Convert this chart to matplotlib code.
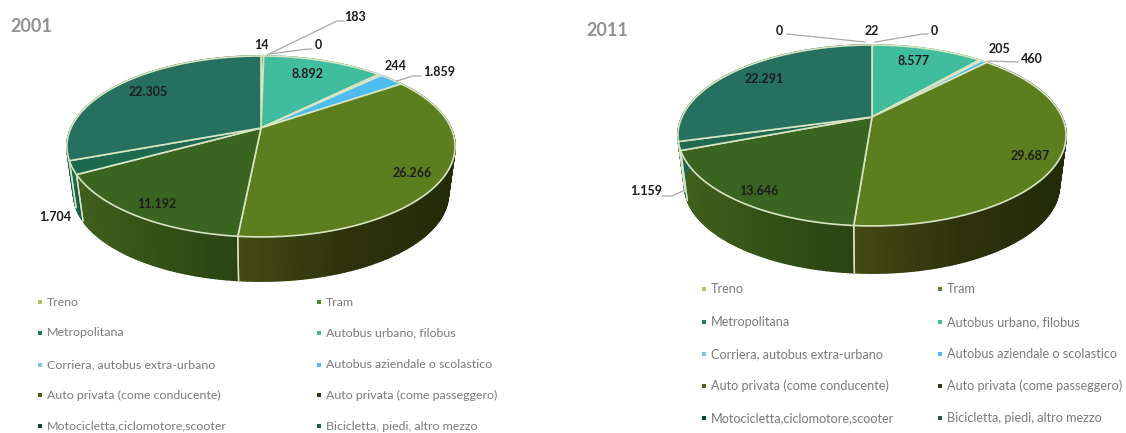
import numpy as np
import matplotlib
matplotlib.use("Agg")
import matplotlib.pyplot as plt
from matplotlib.collections import PolyCollection
from matplotlib.colors import to_rgb
from matplotlib.patches import Polygon, Rectangle

plt.rcParams['font.family'] = ['Lato', 'DejaVu Sans']

categories = [
    "Treno", "Tram", "Metropolitana", "Autobus urbano, filobus",
    "Corriera, autobus extra-urbano", "Autobus aziendale o scolastico",
    "Auto privata (come conducente)", "Auto privata (come passeggero)",
    "Motocicletta,ciclomotore,scooter", "Bicicletta, piedi, altro mezzo",
]
values_2001 = [14, 183, 0, 8892, 244, 1859, 26266, 11192, 1704, 22305]
values_2011 = [22, 0, 0, 8577, 205, 460, 29687, 13646, 1159, 22291]

top_colors = ["#a9c65a", "#4f8a2e", "#1f7a5c", "#40bd9c", "#a5e3ee", "#4dbcf0",
              "#5c7e1e", "#3a6420", "#1e6a50", "#26705f"]
# wall shading: left end, middle and right end of each segment
wall_left = ["#a9c65a", "#4f8a2e", "#1f7a5c", "#2f8f76", "#7fb8c4", "#2f8fc0",
             "#444a14", "#40601c", "#1e6a50", "#1e6a50"]
wall_mid = ["#a9c65a", "#4f8a2e", "#1f7a5c", "#2f8f76", "#7fb8c4", "#2f8fc0",
            "#2e320c", "#345016", "#1a5c46", "#1a5c46"]
wall_right = ["#a9c65a", "#4f8a2e", "#1f7a5c", "#2f8f76", "#7fb8c4", "#2f8fc0",
              "#232b08", "#2b4412", "#174f3c", "#174f3c"]
legend_colors = ["#a9c65a", "#4f8a2e", "#1f7a5c", "#40bd9c", "#7fc8e0", "#4dbcf0",
                 "#4f5f1a", "#2e3a12", "#123f33", "#1e5a4c"]

EDGE = "#d8e4c2"
LEADER = "#a8a8a8"
LABEL = "#1c1c1c"


def project(theta, px, py, a=190.0, b=86.7, k=0.204, scale=1.0):
    # theta runs clockwise from 12 o'clock; the far side of the disc is foreshortened
    u, v = np.sin(theta), np.cos(theta)
    d = 1 + k * v
    return px + scale * a * u / d, py - scale * b * v / d


def shade(i, t):
    left, mid, right = (np.array(to_rgb(c[i])) for c in (wall_left, wall_mid, wall_right))
    if t < 0.5:
        return left + (mid - left) * t * 2
    return mid + (right - mid) * (t - 0.5) * 2


def draw_pie(ax, values, px, py, drop):
    fractions = np.array(values, dtype=float) / sum(values)
    edges = np.concatenate([[0], np.cumsum(fractions)]) * 2 * np.pi

    # side wall first, built from thin slices so it can shade across each segment
    for i in range(len(values)):
        if fractions[i] == 0:
            continue
        th = np.linspace(edges[i], edges[i + 1], max(int(fractions[i] * 360), 2) + 1)
        x0, y0 = project(th, px, py)
        x1, y1 = project(th, px, py + drop, scale=0.965)
        xm = 0.5 * (x0[:-1] + x0[1:])
        t = (xm - xm.min()) / max(np.ptp(xm), 1)
        polys, cols = [], []
        for j in range(len(th) - 1):
            polys.append([(x0[j], y0[j]), (x0[j + 1], y0[j + 1]),
                          (x1[j + 1], y1[j + 1]), (x1[j], y1[j])])
            cols.append(shade(i, t[j]))
        ax.add_collection(PolyCollection(polys, facecolors=cols, edgecolors=cols,
                                         linewidths=1.2, zorder=2))
        # seam where two wall segments meet
        for th_seam in (edges[i], edges[i + 1]):
            if np.cos(th_seam) < 0.3:
                xa, ya = project(th_seam, px, py)
                xb, yb = project(th_seam, px, py + drop, scale=0.965)
                ax.plot([xa, xb], [ya, yb], color=EDGE, lw=1.0, zorder=3)

    # top face
    for i in range(len(values)):
        if fractions[i] == 0:
            continue
        th = np.linspace(edges[i], edges[i + 1], max(int(fractions[i] * 360), 2) + 1)
        x, y = project(th, px, py)
        pts = np.column_stack([np.r_[px, x], np.r_[py, y]])
        ax.add_patch(Polygon(pts, closed=True, facecolor=top_colors[i],
                             edgecolor=EDGE, lw=1.2, zorder=4))


def draw_labels(ax, values, spots):
    for i, (x, y) in spots.items():
        text = f"{values[i]:,}".replace(",", ".")
        ax.text(x, y, text, ha="center", va="center", fontsize=9,
                fontweight="bold", color=LABEL, zorder=6)


def draw_legend(ax, xs, ys, size, text_dx=7):
    for i, name in enumerate(categories):
        x = xs[i % 2]
        y = ys[i // 2]
        ax.add_patch(Rectangle((x - 2, y - 2), 4, 4, facecolor=legend_colors[i], lw=0, zorder=5))
        ax.text(x + text_dx, y, name, ha="left", va="center", fontsize=size,
                color="#7a7a7a", zorder=5)


fig = plt.figure(figsize=(11.26, 4.33), dpi=100, facecolor="white")
ax = fig.add_axes([0, 0, 1, 1])
ax.set_xlim(0, 1126)
ax.set_ylim(433, 0)
ax.axis("off")

draw_pie(ax, values_2001, 261, 128, drop=48)
draw_pie(ax, values_2011, 872, 117, drop=51)

ax.text(10, 26, "2001", fontsize=13, fontweight="bold", color="#929292", va="center")
ax.text(586, 30, "2011", fontsize=13, fontweight="bold", color="#929292", va="center")

draw_labels(ax, values_2001, {
    0: (261, 45), 1: (355, 17), 2: (318, 45), 3: (308, 74), 4: (396, 66),
    5: (439, 72), 6: (412, 173), 7: (157, 204), 8: (55, 217), 9: (148, 92),
})
draw_labels(ax, values_2011, {
    0: (872, 31), 1: (779, 31), 2: (934, 31), 3: (913, 61), 4: (999, 49),
    5: (1032, 59), 6: (1030, 156), 7: (759, 191), 8: (646, 191), 9: (764, 79),
})

# leader lines from the small segments out to their labels
leaders = [
    [(267, 55), (337, 21), (344, 21)],
    [(270, 54), (308, 49), (312, 49)],
    [(397, 81), (413, 76), (421, 76)],
    [(787, 34), (865, 42)],
    [(875, 42), (923, 34), (928, 34)],
    [(988, 61), (1018, 62)],
    [(662, 196), (672, 196), (685, 190)],
]
for line in leaders:
    xs, ys = zip(*line)
    ax.plot(xs, ys, color=LEADER, lw=0.9, zorder=5)

draw_legend(ax, (40, 319), (302, 333, 364.5, 395, 426), 8.9)
draw_legend(ax, (704, 940), (289, 322, 354, 386, 418), 9.1)

fig.savefig("out.png", dpi=100)
plt.close(fig)
